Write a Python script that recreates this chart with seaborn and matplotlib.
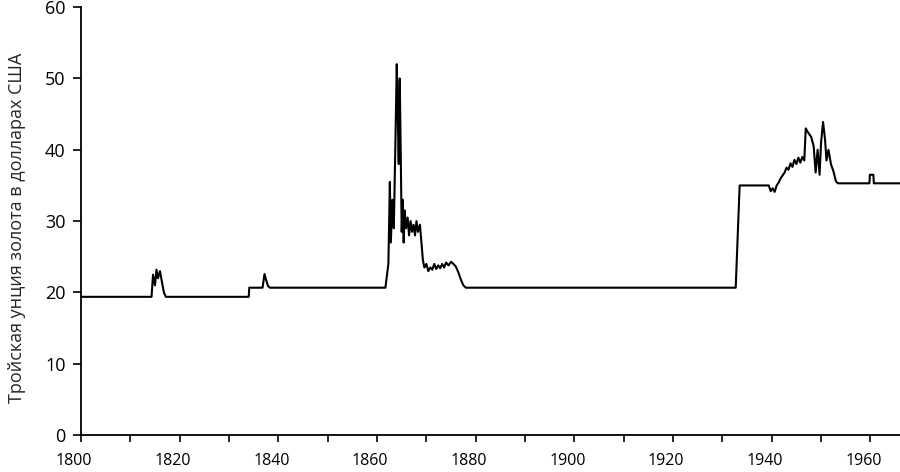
import pandas as pd
import matplotlib
matplotlib.use("Agg")
import matplotlib.pyplot as plt
import matplotlib.transforms as mtransforms
import seaborn as sns

# Gold price, USD per troy ounce
years = [1800, 1814.3, 1814.6, 1815.0, 1815.3, 1815.6, 1816.0, 1816.4, 1816.8, 1817.2,
         1834.0, 1834.1, 1836.8, 1837.2, 1837.5, 1837.9, 1838.3,
         1861.7, 1862.3, 1862.6, 1862.8, 1863.1, 1863.4, 1863.7, 1864.0, 1864.2, 1864.4,
         1864.6, 1864.8, 1865.0, 1865.2, 1865.4, 1865.6, 1865.9, 1866.2, 1866.5, 1866.8,
         1867.1, 1867.4, 1867.7, 1868.0, 1868.3, 1868.7, 1869.0, 1869.3, 1869.6, 1870.0,
         1870.4, 1870.8, 1871.2, 1871.6, 1872.0, 1872.4, 1872.8, 1873.2, 1873.6, 1874.0,
         1874.5, 1875.0, 1875.5, 1876.0, 1876.5, 1877.0, 1877.5, 1878.0,
         1932.7, 1933.5, 1939.4, 1939.8, 1940.2, 1940.6, 1941.0, 1941.4, 1941.8, 1942.2,
         1942.6, 1943.0, 1943.4, 1943.8, 1944.2, 1944.6, 1945.0, 1945.4, 1945.8, 1946.2,
         1946.6, 1946.9, 1947.2, 1947.6, 1948.0, 1948.5, 1948.9, 1949.3, 1949.7, 1950.0,
         1950.4, 1950.8, 1951.1, 1951.5, 1952.0, 1952.5, 1953.0, 1953.4,
         1959.8, 1959.9, 1960.6, 1960.7, 1966.5]
prices = [19.39, 19.39, 22.5, 21.0, 23.2, 22.0, 23.0, 21.5, 20.0, 19.39,
          19.39, 20.67, 20.67, 22.6, 21.8, 20.9, 20.67,
          20.67, 24.0, 35.5, 27.0, 33.0, 29.0, 40.0, 52.0, 45.0, 38.0,
          50.0, 40.0, 28.5, 33.0, 27.0, 31.5, 29.0, 30.5, 28.0, 30.0,
          28.5, 29.5, 28.0, 30.0, 28.5, 29.5, 27.0, 24.5, 23.5, 24.0,
          23.0, 23.5, 23.2, 24.0, 23.3, 23.8, 23.4, 24.0, 23.5, 24.2,
          23.8, 24.3, 24.0, 23.6, 22.8, 21.8, 21.0, 20.67,
          20.67, 35.0, 35.0, 34.2, 34.6, 34.1, 35.0, 35.4, 36.0, 36.4,
          36.8, 37.5, 37.2, 38.1, 37.6, 38.6, 38.0, 38.9, 38.2, 39.0,
          38.5, 43.0, 42.6, 42.2, 41.8, 40.5, 36.8, 40.0, 36.5, 41.0,
          43.9, 41.5, 38.5, 40.0, 38.0, 37.0, 35.6, 35.3,
          35.3, 36.5, 36.5, 35.3, 35.3]
tick_years = list(range(1800, 1961, 10))
tick_labels = [str(y) if y % 20 == 0 else "" for y in tick_years]

df = pd.DataFrame({"year": years, "price": prices})

sns.set_style("ticks")
plt.rcParams["font.family"] = ["Open Sans", "DejaVu Sans"]

fig = plt.figure(figsize=(9, 4.72), dpi=100)
ax = fig.add_axes([0.09, 0.078, 0.91, 0.907])
sns.lineplot(data=df, x="year", y="price", estimator=None, sort=False,
             color="black", linewidth=1.5, ax=ax)

ax.set_xlim(1800, 1966)
ax.set_ylim(0, 60)
ax.tick_params(axis="y", labelsize=13, length=6, width=1.2, pad=5, colors="black")
ax.tick_params(axis="x", labelsize=11.5, length=5, width=1.2, pad=8, colors="black")
ax.set_xticks(tick_years)
ax.set_xticklabels(tick_labels)
ax.set_yticks(range(0, 61, 10))
ax.set_xlabel("")
ax.set_ylabel("Тройская унция золота в долларах США", fontsize=13)
ax.yaxis.set_label_coords(-0.067, 0.484)
sns.despine(ax=ax)
for s in ("left", "bottom"):
    ax.spines[s].set_linewidth(1.3)
    ax.spines[s].set_color("black")

# year labels sit slightly left of their ticks in the original
shift = mtransforms.ScaledTranslation(-7 / 100, 0, fig.dpi_scale_trans)
for lbl in ax.get_xticklabels():
    lbl.set_transform(lbl.get_transform() + shift)

fig.savefig("out.png", dpi=100)
